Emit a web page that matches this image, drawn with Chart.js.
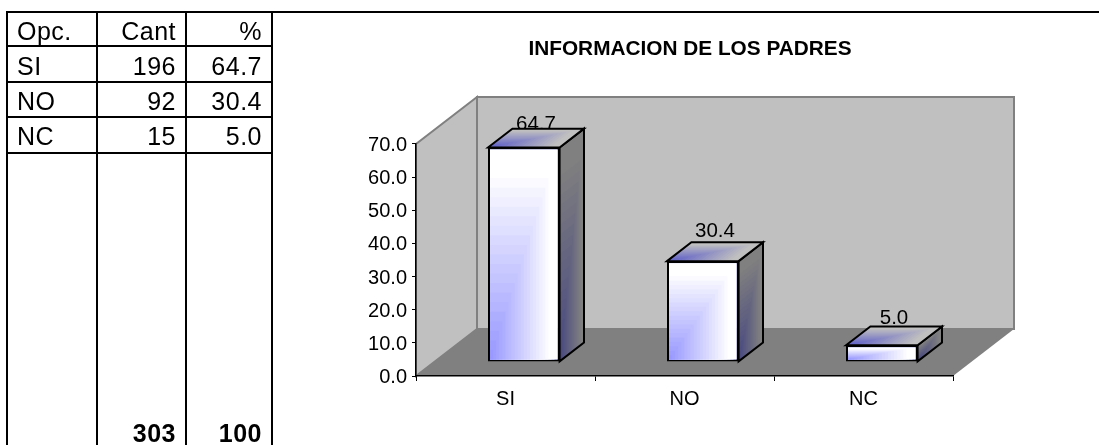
<!DOCTYPE html>
<html>
<head>
<meta charset="utf-8">
<title>INFORMACION DE LOS PADRES</title>
<script src="https://cdn.jsdelivr.net/npm/chart.js@4"></script>
<style>
html,body{margin:0;padding:0;background:#fff;}
body{width:1099px;height:445px;position:relative;overflow:hidden;font-family:"Liberation Sans",Arial,sans-serif;color:#000;}
canvas{position:absolute;left:0;top:0;}
.ln{position:absolute;background:#000;}
.c{position:absolute;font-size:25px;letter-spacing:.5px;line-height:30px;white-space:nowrap;color:#000;}
.l{left:17px;}
.r1{right:923px;}
.r2{right:837px;}
.b{font-weight:bold;}
</style>
</head>
<body>
<canvas id="chart" width="1099" height="445"></canvas>
<div id="table"></div>
<script>
const categories = ['SI', 'NO', 'NC'];
const cantValues = [196, 92, 15];
const percentValues = [64.7, 30.4, 5.0];
const percentLabels = ['64.7', '30.4', '5.0'];
const headerLabels = ['Opc.', 'Cant', '%'];
const totalLabels = ['303', '100'];
const chartTitle = 'INFORMACION DE LOS PADRES';
const labelGaps = [-1, 5, 3];

/* ---- table at the left ---- */
const tableEl = document.getElementById('table');
function line(x, y, w, h) {
  const d = document.createElement('div');
  d.className = 'ln';
  d.style.cssText = `left:${x}px;top:${y}px;width:${w}px;height:${h}px`;
  tableEl.appendChild(d);
}
function cell(text, cls, baseline) {
  const d = document.createElement('div');
  d.className = 'c ' + cls;
  d.textContent = text;
  d.style.top = (baseline - 24) + 'px';
  tableEl.appendChild(d);
}
line(6, 11, 1093, 2);
[6, 96, 185, 271].forEach(x => line(x, 11, 2, 434));
[45, 81, 116, 152].forEach(y => line(6, y, 266, 2));
const rowBase = [75, 110, 145];
cell(headerLabels[0], 'l', 40);
cell(headerLabels[1], 'r1', 40);
cell(headerLabels[2], 'r2', 40);
categories.forEach((c, i) => {
  cell(c, 'l', rowBase[i]);
  cell(String(cantValues[i]), 'r1', rowBase[i]);
  cell(percentLabels[i], 'r2', rowBase[i]);
});
cell(totalLabels[0], 'r1 b', 442);
cell(totalLabels[1], 'r2 b', 442);

/* ---- 3D look ---- */
const WALL_DX = 61, WALL_DY = 47;
const BAR_FRONT = 0.3, BAR_DEPTH = 0.4;
const FONT = '"Liberation Sans", Arial, sans-serif';

function lerpColor(a, b, t) {
  const r = a.map((v, i) => Math.round(v + (b[i] - v) * t));
  return `rgb(${r[0]},${r[1]},${r[2]})`;
}
function cornerFace(ctx, ox, oy, ux, uy, vx, vy, c0, c1) {
  ctx.save();
  ctx.transform(ux, uy, vx, vy, ox, oy);
  const N = 22;
  for (let k = N; k >= 1; k--) {
    const s = k / N;
    ctx.fillStyle = lerpColor(c0, c1, Math.min(1, (k - 1) / (N - 3)));
    ctx.fillRect(0, 0, s, s);
  }
  ctx.restore();
}
function poly(ctx, pts, fill, stroke, lw) {
  ctx.beginPath();
  pts.forEach((p, i) => i ? ctx.lineTo(p[0], p[1]) : ctx.moveTo(p[0], p[1]));
  ctx.closePath();
  if (fill) { ctx.fillStyle = fill; ctx.fill(); }
  if (stroke) { ctx.strokeStyle = stroke; ctx.lineWidth = lw; ctx.lineJoin = 'miter'; ctx.stroke(); }
}

const threeD = {
  id: 'threeD',
  afterLayout(chart) {
    chart.titleBlock.left += 11;
    const ys = chart.scales.y;
    if (!ys._shifted) {
      const orig = ys.drawLabels;
      ys.drawLabels = function (area) {
        chart.ctx.save();
        chart.ctx.translate(0, 1.5);
        orig.call(this, area);
        chart.ctx.restore();
      };
      ys._shifted = true;
    }
  },
  beforeDraw(chart) {
    const { ctx, chartArea: a } = chart;
    const l = a.left, r = a.right, t = a.top, b = a.bottom;
    ctx.save();
    poly(ctx, [[l, b], [l, t], [l + WALL_DX, t - WALL_DY], [l + WALL_DX, b - WALL_DY]], '#c0c0c0', '#808080', 2);
    poly(ctx, [[l + WALL_DX, t - WALL_DY], [r + WALL_DX, t - WALL_DY], [r + WALL_DX, b - WALL_DY], [l + WALL_DX, b - WALL_DY]], '#c0c0c0', '#808080', 2);
    poly(ctx, [[l, b], [r, b], [r + WALL_DX, b - WALL_DY], [l + WALL_DX, b - WALL_DY]], '#808080', null);
    ctx.restore();
  },
  beforeDatasetDraw(chart, args) {
    const { ctx } = chart;
    const meta = args.meta;
    const sx = WALL_DX * BAR_FRONT, sy = WALL_DY * BAR_FRONT;
    const dx = WALL_DX * BAR_DEPTH, dy = WALL_DY * BAR_DEPTH;

    ctx.save();
    ctx.fillStyle = '#000';
    ctx.font = '20.5px ' + FONT;
    ctx.textAlign = 'center';
    ctx.textBaseline = 'alphabetic';
    meta.data.forEach((el, i) => {
      ctx.fillText(percentLabels[i], el.x + sx + dx / 2, el.y - sy - dy - labelGaps[i]);
    });
    ctx.restore();

    ctx.save();
    ctx.translate(sx, -sy);
    meta.data.forEach(el => {
      const x0 = el.x - el.width / 2, x1 = el.x + el.width / 2, top = el.y, base = el.base;
      cornerFace(ctx, x1, base, dx, -dy, 0, top - base, [72, 72, 128], [128, 128, 128]);
      poly(ctx, [[x1, base], [x1 + dx, base - dy], [x1 + dx, top - dy], [x1, top]], null, '#000', 2);
      cornerFace(ctx, x0, top, el.width, 0, dx, -dy, [96, 96, 200], [192, 192, 192]);
      poly(ctx, [[x0, top], [x0 + dx, top - dy], [x1 + dx, top - dy], [x1, top]], null, '#000', 2);
    });
  },
  afterDatasetDraw(chart, args) {
    const { ctx } = chart;
    args.meta.data.forEach(el => {
      const x0 = el.x - el.width / 2 + 2, w = el.width - 4, top = el.y + 2, base = el.base - 2;
      cornerFace(ctx, x0, base, w, 0, 0, top - base, [153, 153, 255], [255, 255, 255]);
    });
    ctx.restore();
  }
};

new Chart(document.getElementById('chart'), {
  type: 'bar',
  data: {
    labels: categories,
    datasets: [{
      label: '%',
      data: percentValues,
      backgroundColor: '#9999ff',
      borderColor: '#000',
      borderWidth: 2,
      borderSkipped: false,
      barPercentage: 1,
      categoryPercentage: 0.4,
      clip: false
    }]
  },
  plugins: [threeD],
  options: {
    responsive: false,
    animation: false,
    devicePixelRatio: 1,
    layout: { padding: { left: 0, top: 0, right: 146, bottom: 0 } },
    plugins: {
      legend: { display: false },
      tooltip: { enabled: false },
      title: {
        display: true,
        text: chartTitle,
        fullSize: false,
        color: '#000',
        font: { family: FONT, size: 20.8, weight: 'bold', lineHeight: 1.2 },
        padding: { top: 37, bottom: 82 }
      }
    },
    scales: {
      x: {
        afterFit(s) { s.height = 69; },
        border: { color: '#000', width: 1.5 },
        grid: { display: true, drawOnChartArea: false, drawTicks: true, tickLength: 5, color: '#000', offset: true },
        ticks: { color: '#000', font: { family: FONT, size: 20 }, padding: 6, maxRotation: 0 }
      },
      y: {
        min: 0,
        max: 70,
        afterFit(s) { s.width = 416; },
        border: { color: '#000', width: 1.5 },
        grid: { display: true, drawOnChartArea: false, drawTicks: true, tickLength: 4, color: '#000' },
        ticks: { stepSize: 10, color: '#000', font: { family: FONT, size: 20 }, padding: 5, callback: v => v.toFixed(1) }
      }
    }
  }
});
</script>
</body>
</html>
